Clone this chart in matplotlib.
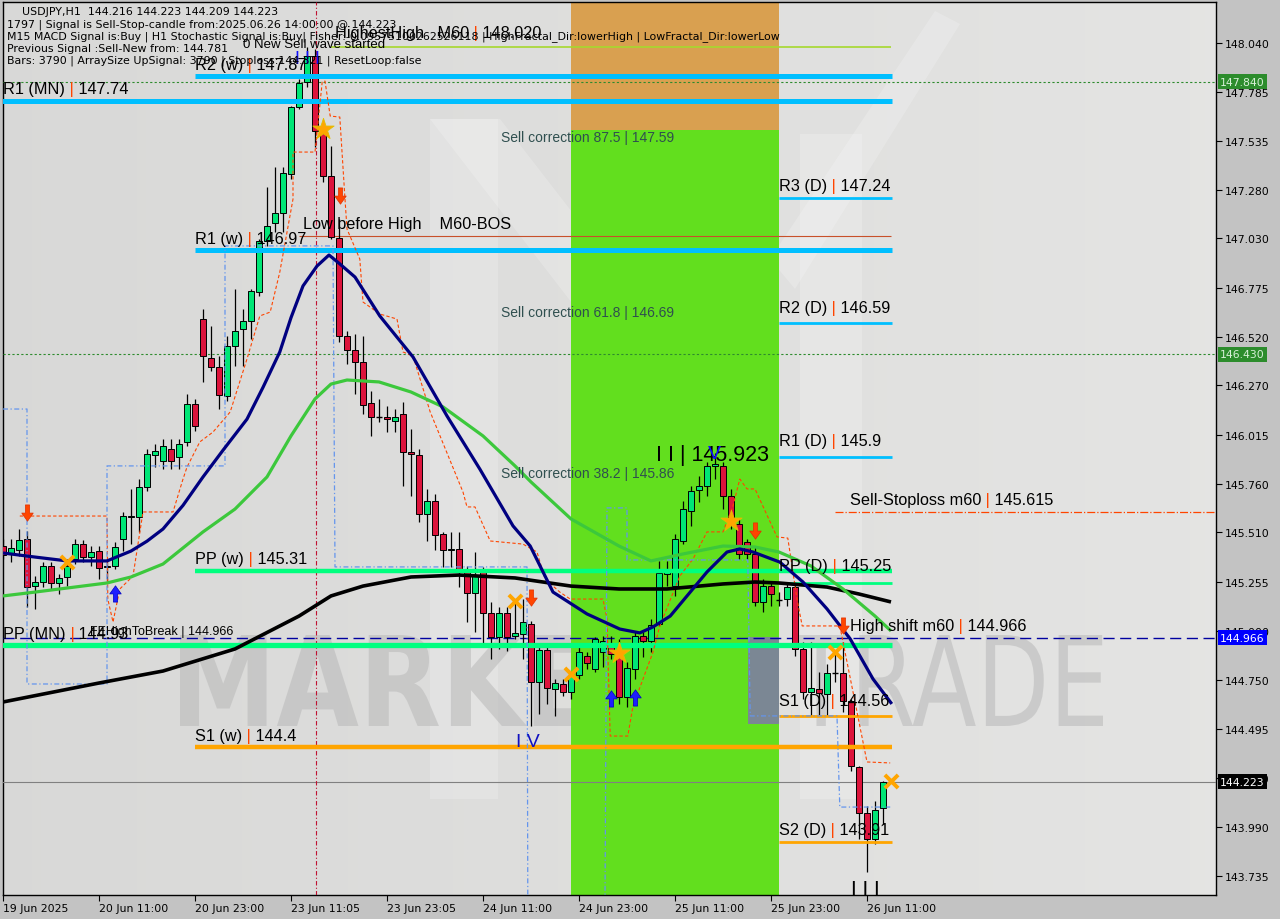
import matplotlib
matplotlib.use('Agg')
import matplotlib.pyplot as plt
import numpy as np
from matplotlib.path import Path
from matplotlib.patches import PathPatch, Rectangle, Polygon
from matplotlib.textpath import TextPath
from matplotlib.font_manager import FontProperties
from matplotlib.transforms import Affine2D, IdentityTransform

# ---------------- data ----------------
opens = [145.440, 145.404, 145.419, 145.476, 145.233, 145.254, 145.337, 145.249, 145.280, 145.373,
         145.450, 145.383, 145.414, 145.337, 145.337, 145.476, 145.590, 145.590, 145.745, 145.910,
         145.879, 145.941, 145.900, 145.978, 146.174, 146.613, 146.412, 146.365, 146.215, 146.474,
         146.562, 146.603, 146.753, 147.016, 147.109, 147.161, 147.363, 147.709, 147.838, 147.972,
         147.580, 147.352, 147.032, 146.525, 146.453, 146.391, 146.179, 146.107, 146.107, 146.086,
         146.122, 145.926, 145.910, 145.606, 145.673, 145.502, 145.419, 145.425, 145.306, 145.197,
         145.306, 145.094, 144.970, 145.094, 144.975, 144.985, 145.037, 144.737, 144.903, 144.701,
         144.727, 144.686, 144.773, 144.872, 144.804, 144.892, 144.923, 144.892, 144.660, 144.804,
         144.975, 144.949, 145.037, 145.295, 145.233, 145.466, 145.621, 145.730, 145.750, 145.854,
         145.854, 145.699, 145.554, 145.461, 145.399, 145.151, 145.233, 145.161, 145.166, 145.228,
         144.908, 144.686, 144.701, 144.675, 144.784, 144.784, 144.639, 144.298, 144.060, 143.926,
         144.086]
highs = [145.476, 145.476, 145.528, 145.518, 145.285, 145.358, 145.358, 145.295, 145.358, 145.476,
         145.471, 145.440, 145.440, 145.363, 145.461, 145.616, 145.735, 145.786, 145.941, 145.967,
         145.993, 145.993, 145.993, 146.226, 146.200, 146.665, 146.577, 146.422, 146.525, 146.768,
         146.665, 146.768, 147.027, 147.295, 147.399, 147.399, 147.714, 147.854, 148.020, 148.009,
         147.611, 147.507, 147.130, 146.551, 146.536, 146.525, 146.241, 146.200, 146.164, 146.148,
         146.184, 146.045, 145.941, 145.735, 145.709, 145.513, 145.513, 145.513, 145.337, 145.409,
         145.332, 145.151, 145.125, 145.125, 145.151, 145.166, 145.053, 144.923, 144.918, 144.753,
         144.753, 144.789, 144.923, 144.892, 144.970, 144.975, 144.975, 144.960, 144.841, 144.996,
         144.996, 145.063, 145.363, 145.363, 145.502, 145.673, 145.750, 145.802, 145.874, 145.923,
         145.874, 145.735, 145.580, 145.476, 145.440, 145.270, 145.254, 145.202, 145.254, 145.254,
         144.944, 144.944, 144.789, 144.830, 144.892, 144.944, 144.649, 144.303, 144.096, 144.122,
         144.226]
lows = [145.373, 145.358, 145.389, 145.125, 145.115, 145.228, 145.218, 145.192, 145.233, 145.347,
        145.358, 145.337, 145.270, 145.259, 145.321, 145.414, 145.450, 145.513, 145.724, 145.848,
        145.838, 145.838, 145.838, 145.957, 146.034, 146.288, 146.345, 146.148, 146.190, 146.370,
        146.370, 146.510, 146.732, 146.991, 147.063, 147.063, 147.337, 147.699, 147.812, 147.502,
        147.321, 147.027, 146.494, 146.381, 146.226, 146.122, 146.009, 146.081, 146.029, 146.029,
        145.750, 145.699, 145.564, 145.466, 145.419, 145.332, 145.332, 145.228, 145.047, 144.996,
        144.923, 144.856, 144.908, 144.898, 144.960, 144.856, 144.510, 144.572, 144.624, 144.562,
        144.665, 144.649, 144.753, 144.804, 144.789, 144.815, 144.856, 144.624, 144.608, 144.753,
        144.867, 144.892, 145.027, 145.233, 145.182, 145.450, 145.544, 145.668, 145.699, 145.787,
        145.631, 145.528, 145.373, 145.373, 145.130, 145.099, 145.130, 145.130, 145.130, 144.872,
        144.649, 144.562, 144.562, 144.562, 144.737, 144.582, 144.277, 143.926, 143.755, 143.900,
        144.003]
closes = [145.394, 145.430, 145.471, 145.228, 145.254, 145.337, 145.249, 145.275, 145.337, 145.450,
          145.383, 145.409, 145.326, 145.332, 145.435, 145.595, 145.595, 145.745, 145.916, 145.931,
          145.957, 145.879, 145.967, 146.174, 146.060, 146.422, 146.365, 146.221, 146.474, 146.551,
          146.603, 146.758, 147.016, 147.094, 147.161, 147.368, 147.709, 147.833, 147.972, 147.585,
          147.352, 147.037, 146.525, 146.453, 146.391, 146.169, 146.107, 146.107, 146.096, 146.107,
          145.926, 145.916, 145.606, 145.673, 145.497, 145.419, 145.425, 145.311, 145.197, 145.285,
          145.094, 144.970, 145.094, 144.970, 144.991, 145.047, 144.737, 144.903, 144.706, 144.732,
          144.686, 144.768, 144.892, 144.836, 144.960, 144.949, 144.882, 144.660, 144.810, 144.975,
          144.949, 145.032, 145.301, 145.306, 145.476, 145.631, 145.724, 145.750, 145.854, 145.864,
          145.699, 145.564, 145.399, 145.399, 145.151, 145.233, 145.192, 145.161, 145.228, 144.908,
          144.686, 144.706, 144.680, 144.784, 144.784, 144.639, 144.303, 144.060, 143.926, 144.076,
          144.223]

# moving averages (bar index, price)
ma_fast_x = [0, 4, 8, 13, 16, 18, 20, 22.5, 25, 27.5, 30.5, 32.5, 34.6, 36, 37.5, 39.25, 40.75, 42.1,
             44, 47.1, 51.25, 55.5, 59.6, 63.75, 65.9, 68.75, 73, 77.1, 79.6, 81.25, 83.4, 85.5, 88,
             90.5, 92.1, 93.75, 97.1, 100, 103, 105.9, 108.75, 111.1]
ma_fast_y = [145.404, 145.383, 145.363, 145.363, 145.414, 145.465, 145.528, 145.650, 145.797, 145.935,
             146.096, 146.260, 146.443, 146.620, 146.784, 146.887, 146.944, 146.898, 146.830, 146.629,
             146.417, 146.112, 145.838, 145.544, 145.440, 145.202, 145.089, 145.011, 144.991, 145.022,
             145.078, 145.182, 145.306, 145.409, 145.425, 145.409, 145.357, 145.254, 145.115, 144.960,
             144.753, 144.624]
ma_mid_x = [0, 4, 13, 16, 20, 25, 29, 33, 36, 39, 41, 43, 47, 51, 55, 60, 64, 66, 71, 77, 81, 85, 90,
            94, 97, 101, 105, 109, 111]
ma_mid_y = [145.182, 145.202, 145.249, 145.280, 145.347, 145.513, 145.631, 145.797, 146.009, 146.200,
            146.277, 146.298, 146.288, 146.236, 146.159, 146.009, 145.854, 145.771, 145.580, 145.440,
            145.363, 145.399, 145.440, 145.435, 145.409, 145.337, 145.218, 145.078, 145.001]
ma_slow_x = [0, 12, 20, 29, 37, 41, 45, 51, 57, 64, 71, 77, 83, 90, 94, 97, 103, 107, 111]
ma_slow_y = [144.634, 144.732, 144.794, 144.908, 145.078, 145.182, 145.233, 145.280, 145.290, 145.275,
             145.233, 145.218, 145.218, 145.244, 145.254, 145.249, 145.228, 145.192, 145.151]

# trailing stop (orange-red dashed)
trail_x = [2.1, 13.0, 13.1, 13.75, 14.6, 16.25, 17.5, 21.25, 22.5, 23, 24.6, 26.25, 28.4, 30.5, 32.1,
           33.4, 34.6, 36.25, 36.25, 39, 39.9, 40.25, 40.9, 42.1, 42.75, 43, 44.6, 45, 47.1, 49.25, 50,
           51.25, 53.4, 57.5, 58, 59, 60.9, 65, 66.75, 67.75, 69.6, 70.9, 75, 75.5, 75.9, 78.1, 78.75,
           81.25, 82.1, 84.6, 86.25, 88, 90, 91.25, 92.1, 93, 94, 96.75, 98.1, 99.25, 99.9, 104.6,
           106.25, 107.1, 108, 110.9]
trail_y = [145.595, 145.595, 145.166, 145.047, 145.218, 145.285, 145.616, 145.616, 145.786, 145.848,
           145.978, 146.029, 146.133, 146.407, 146.629, 146.649, 146.856, 147.233, 147.476, 147.476,
           147.838, 147.843, 147.662, 147.657, 147.233, 147.078, 146.923, 146.701, 146.639, 146.613,
           146.443, 146.422, 146.133, 145.719, 145.642, 145.642, 145.466, 145.450, 145.409, 145.270,
           145.202, 145.166, 145.166, 145.063, 144.458, 144.458, 144.613, 144.892, 145.027, 145.285,
           145.373, 145.513, 145.513, 145.647, 145.786, 145.735, 145.735, 145.487, 145.481, 145.166,
           145.027, 145.027, 144.686, 144.510, 144.324, 144.319]

# channel (blue dash-dot) two segments
chan1_x = [0, 3, 3, 13, 13, 27.75, 27.75, 41.25, 41.5, 65.5, 65.6]
chan1_y = [146.148, 146.148, 144.727, 144.727, 145.854, 145.854, 146.991, 146.991, 145.332, 145.332, 143.60]
chan2_x = [75.25, 75.5, 78, 78, 93.1, 93.4, 104.25, 104.4, 104.6, 110.9]
chan2_y = [143.60, 145.637, 145.637, 145.368, 145.368, 144.562, 144.562, 144.355, 144.091, 144.091]

# pivots
pivot_names = ["R2 (w)", "R1 (MN)", "R1 (w)", "PP (w)", "PP (MN)", "S1 (w)",
               "R3 (D)", "R2 (D)", "R1 (D)", "PP (D)", "S1 (D)", "S2 (D)"]
pivot_vals = [147.87, 147.74, 146.97, 145.31, 144.93, 144.4, 147.24, 146.59, 145.9, 145.25, 144.56, 143.91]

tick_vals = [148.040, 147.785, 147.535, 147.280, 147.030, 146.775, 146.520, 146.270, 146.015,
             145.760, 145.510, 145.255, 145.000, 144.750, 144.495, 144.240, 143.990, 143.735]
date_labels = ["19 Jun 2025", "20 Jun 11:00", "20 Jun 23:00", "23 Jun 11:05", "23 Jun 23:05",
               "24 Jun 11:00", "24 Jun 23:00", "25 Jun 11:00", "25 Jun 23:00", "26 Jun 11:00"]
date_pos = [0, 12, 24, 36, 48, 60, 72, 84, 96, 108]

down_x = [3, 42.1, 66, 94, 105]
down_y = [145.606, 147.244, 145.166, 145.513, 145.022]
up_x = [14, 76, 79]
up_y = [145.203, 144.660, 144.665]
star_x = [40, 77, 91]
star_y = [147.595, 144.887, 145.569]
cross_x = [8, 64, 71, 104, 111]
cross_y = [145.358, 145.156, 144.779, 144.892, 144.226]

# ---------------- figure ----------------
W, H = 1280, 920
fig = plt.figure(figsize=(12.8, 9.2), dpi=100, facecolor='#C3C3C3')
L, R, T, B = 3, 1216, 3, 896
ax = fig.add_axes([L / W, 1 - B / H, (R - L) / W, (B - T) / H])
XMIN, XMAX = 0.0, (R - L) / 8.0
YMIN, YMAX = 143.6365, 148.2515
PX = Affine2D().scale(1, -1).translate(0, H)  # image pixel coords -> display

# background gradient
grad = np.linspace(0.85, 0.895, 256)
ax.imshow(np.dstack([grad, grad, grad * 0.995]).reshape(1, 256, 3), extent=[XMIN, XMAX, YMIN, YMAX],
          aspect='auto', zorder=0, interpolation='bilinear')

# logo shapes (light)
logo = [[(430, 120), (498, 120), (498, 800), (430, 800)],
        [(430, 120), (500, 120), (740, 430), (700, 470)],
        [(800, 135), (862, 135), (862, 800), (800, 800)],
        [(770, 260), (935, 12), (960, 25), (795, 290)]]
for poly in logo:
    ax.add_patch(Polygon(poly, closed=True, transform=PX, facecolor='white', alpha=0.2,
                         edgecolor='none', zorder=1))

# watermark text
def wm_text(s, box, weight, color, alpha, z):
    tp = TextPath((0, 0), s, size=1, prop=FontProperties(family='DejaVu Sans', weight=weight))
    bb = tp.get_extents()
    x0, y0, x1, y1 = box
    tr = Affine2D().translate(-bb.x0, -bb.y0).scale((x1 - x0) / bb.width, (y1 - y0) / bb.height) \
        .translate(x0, H - y1)
    ax.add_patch(PathPatch(tr.transform_path(tp), transform=IdentityTransform(), facecolor=color,
                           edgecolor='none', alpha=alpha, zorder=z))

wm_text("MARKETZ", (180, 636, 742, 727), 'bold', '#B8B8B8', 0.55, 1.5)
wm_text("TRADE", (792, 636, 1103, 727), 'normal', '#B8B8B8', 0.55, 1.5)

# zones
ax.add_patch(Rectangle((71, 147.59), 26, 2.0, facecolor='#D9A050', edgecolor='none', zorder=2))
ax.add_patch(Rectangle((71, 143.0), 26, 147.59 - 143.0, facecolor='#62DF1E', edgecolor='none', zorder=2))
ax.add_patch(Rectangle((748, 638), 31, 87, transform=PX, facecolor='#7B8794', edgecolor='none', zorder=2.2))

# ---------------- candles ----------------
for i, (o, h, l, c) in enumerate(zip(opens, highs, lows, closes)):
    ax.vlines(i, l, h, color='black', lw=0.9, zorder=5)
    bot, top = min(o, c), max(o, c)
    if top - bot < 0.004:
        ax.hlines((o + c) / 2, i - 0.35, i + 0.35, color='black', lw=1.0, zorder=6)
    else:
        col = '#00E676' if c >= o else '#DC143C'
        ax.add_patch(Rectangle((i - 0.33, bot), 0.66, top - bot, facecolor=col,
                               edgecolor='black', lw=0.7, zorder=6))

# ---------------- horizontal lines ----------------
ax.axhline(147.840, color='#2E8B2E', lw=0.8, ls=(0, (2, 2)), zorder=4)
ax.axhline(146.430, color='#2E8B2E', lw=0.8, ls=(0, (2, 2)), zorder=4)
ax.axhline(144.966, color='#0000A0', lw=1.0, ls=(0, (8, 4)), zorder=4)
ax.axhline(144.223, color='#808080', lw=0.8, zorder=4)
ax.hlines(148.020, 41, 111, color='#A6D82E', lw=1.2, zorder=4)
ax.hlines(147.042, 37, 111, color='#C8502A', lw=0.8, zorder=4)
ax.hlines(145.615, 104, XMAX, color='#FF4500', lw=0.9, ls='-.', zorder=4)
ax.axvline(39.1, color='#C01030', lw=0.8, ls=(0, (4, 2, 1, 2)), zorder=4)

pivot_style = {
    "R2 (w)": (24, '#00BFFF', 3.6), "R1 (MN)": (-1, '#00BFFF', 3.6), "R1 (w)": (24, '#00BFFF', 3.6),
    "PP (w)": (24, '#00FF7F', 3.2), "PP (MN)": (-1, '#00FF7F', 3.8), "S1 (w)": (24, '#FFA500', 3.2),
    "R3 (D)": (97, '#00BFFF', 2.0), "R2 (D)": (97, '#00BFFF', 2.0), "R1 (D)": (97, '#00BFFF', 2.0),
    "PP (D)": (97, '#00FF7F', 2.0), "S1 (D)": (97, '#FFA500', 2.0), "S2 (D)": (97, '#FFA500', 2.0),
}
for name, val in zip(pivot_names, pivot_vals):
    xs, col, lw = pivot_style[name]
    ax.hlines(val, xs, 111.1, color=col, lw=lw, zorder=7)

# indicator lines
ax.plot(trail_x, trail_y, color='#FF4500', lw=0.8, ls=(0, (3, 2)), zorder=7)
ax.plot(chan1_x, chan1_y, color='#6495ED', lw=0.9, ls=(0, (4, 2, 1, 2)), zorder=7)
ax.plot(chan2_x, chan2_y, color='#6495ED', lw=0.9, ls=(0, (4, 2, 1, 2)), zorder=7)
ax.plot(ma_slow_x, ma_slow_y, color='black', lw=2.6, zorder=8, solid_capstyle='butt', solid_joinstyle='round')
ax.plot(ma_mid_x, ma_mid_y, color='#3CC83C', lw=2.3, zorder=8, solid_capstyle='butt', solid_joinstyle='round')
ax.plot(ma_fast_x, ma_fast_y, color='#000080', lw=2.3, zorder=8, solid_capstyle='butt', solid_joinstyle='round')

# markers
arrow = Path([(-0.22, 1.0), (0.22, 1.0), (0.22, 0.15), (0.6, 0.15), (0, -0.7), (-0.6, 0.15),
              (-0.22, 0.15), (-0.22, 1.0)], [1, 2, 2, 2, 2, 2, 2, 79])
arrow_up = Path([(x, -y) for x, y in arrow.vertices], arrow.codes)
ax.scatter(down_x, down_y, marker=arrow, s=190, color='#FF4500', edgecolors='#E03000', lw=0.5, zorder=10)
ax.scatter(up_x, up_y, marker=arrow_up, s=190, color='#1E1EFF', edgecolors='#0000C0', lw=0.5, zorder=10)
ax.scatter(star_x, star_y, marker='*', s=260, color='#FFA500', edgecolors='#E0C000', lw=0.6, zorder=10)
ax.scatter(cross_x, cross_y, marker='x', s=90, color='#FFA500', lw=2.8, zorder=10)

ax.set_xlim(XMIN, XMAX)
ax.set_ylim(YMIN, YMAX)

# ---------------- texts ----------------
def txt(x, y, s, size, color='black', family='Liberation Sans', **kw):
    return ax.text(x, y, s, transform=PX, fontsize=size, color=color, family=family,
                   va='center', ha='left', zorder=20, **kw)

def ptxt(x, y, parts, size=11.7, family='Liberation Sans'):
    t = txt(x, y, parts[0][0], size, parts[0][1], family)
    for s, c in parts[1:]:
        t = ax.annotate(s, xy=(1, 0.5), xycoords=t, va='center', ha='left', fontsize=size,
                        color=c, family=family, zorder=20, annotation_clip=False)
    return t

RED = '#FF4500'
label_pos = {"R2 (w)": (195, 66), "R1 (MN)": (3, 90), "R1 (w)": (195, 240), "PP (w)": (195, 560),
             "PP (MN)": (3, 635), "S1 (w)": (195, 737), "R3 (D)": (779, 187), "R2 (D)": (779, 309),
             "R1 (D)": (779, 442), "PP (D)": (779, 567), "S1 (D)": (779, 702), "S2 (D)": (779, 831)}
for name, val in zip(pivot_names, pivot_vals):
    x, y = label_pos[name]
    ptxt(x, y, [(name, 'black'), (" |", RED), (" " + ("%g" % val), 'black')])

ptxt(850, 501, [("Sell-Stoploss m60", 'black'), (" |", RED), (" 145.615", 'black')])
ptxt(850, 627, [("High shift m60", 'black'), (" |", RED), (" 144.966", 'black')])
ptxt(335, 34, [("HighestHigh   M60", 'black'), (" |", RED), (" 148.020", 'black')])
txt(303, 225, "Low before High    M60-BOS", 11.7)
txt(243, 45, "0 New Sell wave started", 9.5)
txt(90, 632, "FEHighToBreak | 144.966", 9.0)
for s, y in [("Sell correction 87.5 | 147.59", 138), ("Sell correction 61.8 | 146.69", 313),
             ("Sell correction 38.2 | 145.86", 474)]:
    txt(501, y, s, 10.0, color='#2F4F4F')
txt(656, 456, "I I | 145.923", 15.5)
txt(708, 455, "V", 14, color='#1010FF')
txt(516, 743, "I V", 14, color='#1010C0')
txt(851, 890, "I I I", 15, color='black')
txt(295, 60, "I I I", 13, color='#1010FF')

info = [(22, 12, "USDJPY,H1  144.216 144.223 144.209 144.223"),
        (7, 25, "1797 | Signal is Sell-Stop-candle from:2025.06.26 14:00:00 @ 144.223"),
        (7, 37, "M15 MACD Signal is:Buy | H1 Stochastic Signal is:Buy| Fisher:-0.09575100262526118 | HighFractal_Dir:lowerHigh | LowFractal_Dir:lowerLow"),
        (7, 49, "Previous Signal :Sell-New from: 144.781"),
        (7, 61, "Bars: 3790 | ArraySize UpSignal: 3790 | Stoploss:144.321 | ResetLoop:false")]
for x, y, s in info:
    txt(x, y, s, 7.9, family='DejaVu Sans')

# ---------------- axes ----------------
for sp in ax.spines.values():
    sp.set_color('black')
    sp.set_linewidth(1.0)
ax.yaxis.tick_right()
ax.set_yticks(tick_vals)
ax.set_yticklabels(["%.3f" % v for v in tick_vals], fontsize=7.8, family='DejaVu Sans')
ax.set_xticks(date_pos)
ax.set_xticklabels(date_labels, fontsize=7.8, family='DejaVu Sans', ha='left')
ax.tick_params(axis='y', direction='out', length=4, width=0.8, pad=2, colors='black')
ax.tick_params(axis='x', direction='out', length=4, width=0.8, pad=2, colors='black')

for v, fc, tc in [(147.840, '#2C8C2C', '#D8F0D8'), (146.430, '#2C8C2C', '#D8F0D8'),
                  (144.966, '#0000FF', 'white'), (144.223, 'black', 'white')]:
    y = (YMAX - v) * 193.5 + 3
    ax.text(1220, y, "%.3f" % v, transform=PX, fontsize=7.8, family='DejaVu Sans', color=tc,
            va='center', ha='left', clip_on=False, zorder=30,
            bbox=dict(boxstyle='square,pad=0.22', facecolor=fc, edgecolor='none'))

fig.savefig('out.png', dpi=100, facecolor=fig.get_facecolor())
